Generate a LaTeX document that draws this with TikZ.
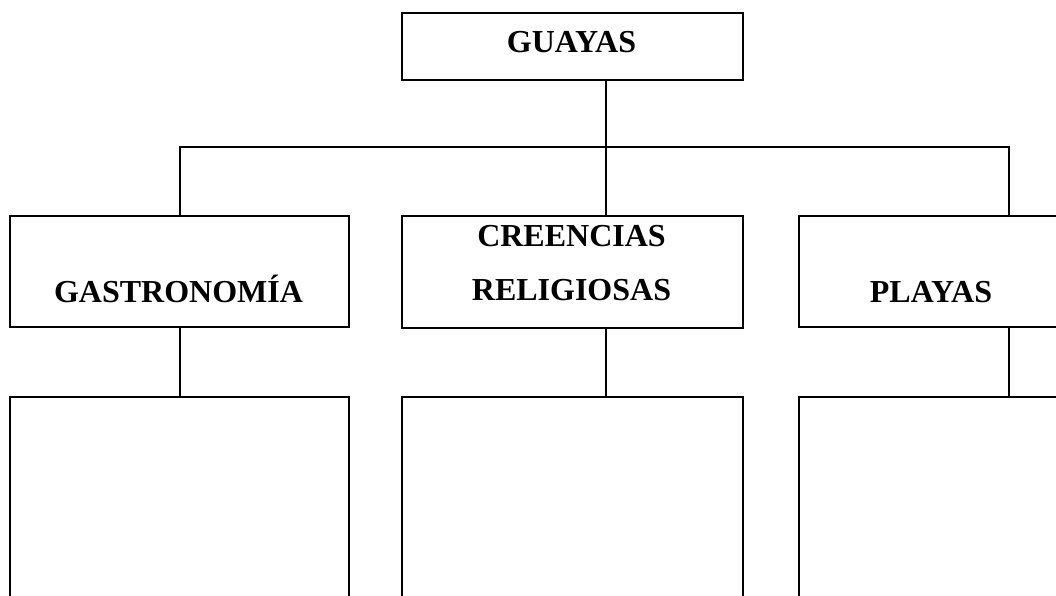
\documentclass[tikz,border=0pt]{standalone}
\usepackage{fontspec}
\setmainfont{Liberation Serif}
\usepackage{tikz}

\begin{document}
\begin{tikzpicture}[x=1pt,y=-1pt,line width=2pt,
  box/.style={draw,rectangle,inner sep=0pt,anchor=north west},
  txt/.style={anchor=base,inner sep=0pt,align=center,
    font=\fontsize{32}{54}\selectfont\bfseries}]
\clip (0,0) rectangle (1056,596);
% boxes
\node[box,minimum width=341pt,minimum height=67pt] (guayas) at (401,12) {};
\node[box,minimum width=339pt,minimum height=111pt] (gastro) at (9,215) {};
\node[box,minimum width=341pt,minimum height=112pt] (creencias) at (401,215) {};
\node[box,minimum width=266pt,minimum height=111pt] (playas) at (798,215) {};
\node[box,minimum width=339pt,minimum height=230pt] (gastroinfo) at (9,396) {};
\node[box,minimum width=341pt,minimum height=230pt] (creenciasinfo) at (401,396) {};
\node[box,minimum width=266pt,minimum height=230pt] (playasinfo) at (798,396) {};
% texts
\node[txt] (guayas-t) at (571.5,53) {GUAYAS};
\node[txt] (gastro-t) at (178.5,302) {GASTRONOMÍA};
\node[txt] (creencias-t) at (571.5,300) {CREENCIAS\\RELIGIOSAS};
\node[txt] (playas-t) at (931,302) {PLAYAS};
% connectors
\coordinate (mx) at (606,0);
\coordinate (rx) at (1009,0);
\coordinate (bus) at (0,147);
\draw (guayas.south -| mx) -- (creencias.north -| mx);
\draw (gastro.north) -- (gastro.north |- bus) -- (bus -| rx) -- (playas.north -| rx);
\draw (gastro.south) -- (gastroinfo.north);
\draw (creencias.south -| mx) -- (creenciasinfo.north -| mx);
\draw (playas.south -| rx) -- (playasinfo.north -| rx);
\end{tikzpicture}
\end{document}
